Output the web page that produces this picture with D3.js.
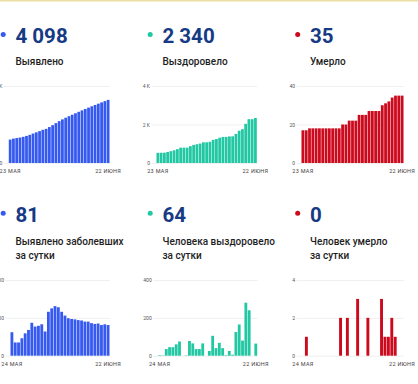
<!DOCTYPE html>
<html>
<head>
<meta charset="utf-8">
<script src="https://cdn.jsdelivr.net/npm/d3@7"></script>
<style>
  body { margin: 0; background: #fff; }
  svg { display: block; font-family: Roboto, "Noto Sans", sans-serif; }
</style>
</head>
<body>
<div id="d3-container"></div>
<script>
// Datos
const daysTotal = ["23.05","24.05","25.05","26.05","27.05","28.05","29.05","30.05","31.05",
  "01.06","02.06","03.06","04.06","05.06","06.06","07.06","08.06","09.06","10.06","11.06",
  "12.06","13.06","14.06","15.06","16.06","17.06","18.06","19.06","20.06","21.06","22.06"]
const daysDaily = daysTotal.slice(1)

const totalDateTicks = ["23 МАЯ", "22 ИЮНЯ"]
const dailyDateTicks = ["24 МАЯ", "22 ИЮНЯ"]

const detectedTotal = [1522,1584,1619,1654,1700,1759,1827,1914,1991,2070,2153,2217,2333,2458,2589,
  2717,2833,2939,3038,3135,3231,3325,3418,3508,3598,3684,3768,3853,3934,4017,4098]
const recoveredTotal = [530,533,535,570,615,660,720,795,795,797,875,940,975,1010,1075,1075,1100,
  1205,1245,1313,1353,1356,1381,1386,1511,1676,1756,2036,2276,2276,2340]
const deathsTotal = [17,17,18,18,18,18,18,18,18,18,18,18,20,20,22,22,22,25,25,25,27,27,27,27,
  30,31,32,34,35,35,35]

const detectedDaily = [62,35,35,46,59,68,87,77,79,83,64,116,125,131,128,116,106,99,97,96,94,93,
  90,90,86,84,85,81,83,81]
const recoveredDaily = [3,2,35,45,45,60,75,0,2,78,65,35,35,65,0,25,105,40,68,40,3,25,5,125,165,
  80,280,240,0,64]
const deathsDaily = [0,1,0,0,0,0,0,0,0,0,0,2,0,2,0,0,3,0,0,2,0,0,0,3,1,1,2,1,0,0]

const headlines = ["4 098", "2 340", "35", "81", "64", "0"]
const titles = [["Выявлено"], ["Выздоровело"], ["Умерло"],
  ["Выявлено заболевших", "за сутки"], ["Человека выздоровело", "за сутки"], ["Человек умерло", "за сутки"]]
const yTicks = [[0, 5000], [0, 2000, 4000], [0, 20, 40], [0, 100, 200], [0, 200, 400], [0, 2, 4]]

// Colores
const blue = "#3659f0", teal = "#22c7a3", red = "#cc0a1e"

const charts = [
  {values: detectedTotal, days: daysTotal, ticks: totalDateTicks, color: blue},
  {values: recoveredTotal, days: daysTotal, ticks: totalDateTicks, color: teal},
  {values: deathsTotal, days: daysTotal, ticks: totalDateTicks, color: red},
  {values: detectedDaily, days: daysDaily, ticks: dailyDateTicks, color: blue},
  {values: recoveredDaily, days: daysDaily, ticks: dailyDateTicks, color: teal},
  {values: deathsDaily, days: daysDaily, ticks: dailyDateTicks, color: red}
]

// Disposición
const width = 418, height = 384
const colX = [15.5, 162.5, 310]
const plotRange = [[8.3, 110], [156, 257.3], [301, 404], [10, 110], [157.7, 257.7], [301, 404]]
const rows = [
  {num: 43, title: 64.5, top: 86, bottom: 163},
  {num: 221.7, title: 244.5, top: 280, bottom: 355.7}
]

const svg = d3.select("#d3-container")
  .append("svg")
    .attr("width", width)
    .attr("height", height)

svg.append("rect")
  .attr("width", width).attr("height", 1.5)
  .attr("fill", "#ebdfa3")

charts.forEach((c, i) => {
  const row = rows[Math.floor(i / 3)]
  const cx = colX[i % 3]
  const g = svg.append("g")

  // Punto y cifra
  g.append("circle")
    .attr("cx", cx - 12.3).attr("cy", row.num - 8.5).attr("r", 2.5)
    .attr("fill", c.color)
  g.append("text")
    .attr("x", cx).attr("y", row.num)
    .attr("font-size", 20.5).attr("font-weight", 700)
    .attr("fill", "#173a84")
    .text(headlines[i])

  // Título
  titles[i].forEach((t, k) => {
    g.append("text")
      .attr("x", cx).attr("y", row.title + k * 14)
      .attr("font-size", 10).attr("font-weight", 500)
      .attr("fill", "#1e1e1e")
      .text(t)
  })

  // Escalas
  const [x0, x1] = plotRange[i]
  const x = d3.scaleBand()
    .domain(c.days)
    .range([x0, x1])
    .padding(0.15)
  const ticks = yTicks[i]
  const y = d3.scaleLinear()
    .domain([0, ticks[ticks.length - 1]])
    .range([row.bottom, row.top])

  // Eje Y con líneas de rejilla
  const yAxis = g.append("g")
    .attr("transform", `translate(${x0 - 4.5},0)`)
    .call(d3.axisLeft(y)
      .tickValues(ticks)
      .tickSize(-(x1 - x0 + 4.5))
      .tickFormat(d => d >= 1000 ? `${d / 1000} K` : d))
  yAxis.select(".domain").remove()
  yAxis.selectAll(".tick line")
    .attr("stroke", "#ececec").attr("stroke-width", 0.8)
  yAxis.selectAll(".tick text")
    .attr("x", -1.5).attr("text-anchor", "end")
    .attr("font-family", "Roboto, sans-serif")
    .attr("font-size", 5).attr("fill", "#555")

  // Barras
  g.selectAll(".bar")
    .data(c.values)
    .join("rect")
      .attr("class", "bar")
      .attr("x", (d, k) => x(c.days[k]))
      .attr("width", x.bandwidth())
      .attr("y", d => y(d))
      .attr("height", d => y(0) - y(d))
      .attr("fill", c.color)

  // Eje X: solo primera y última fecha
  const first = c.days[0], last = c.days[c.days.length - 1]
  const xAxis = g.append("g")
    .attr("transform", `translate(0,${row.bottom})`)
    .call(d3.axisBottom(x)
      .tickValues([first, last])
      .tickSize(0)
      .tickPadding(6)
      .tickFormat(d => d === first ? c.ticks[0] : c.ticks[1]))
  xAxis.select(".domain").remove()
  xAxis.selectAll(".tick text")
    .attr("font-family", "Roboto, sans-serif")
    .attr("font-size", 5.5).attr("letter-spacing", 0.3)
    .attr("fill", "#444")
})
</script>
</body>
</html>
